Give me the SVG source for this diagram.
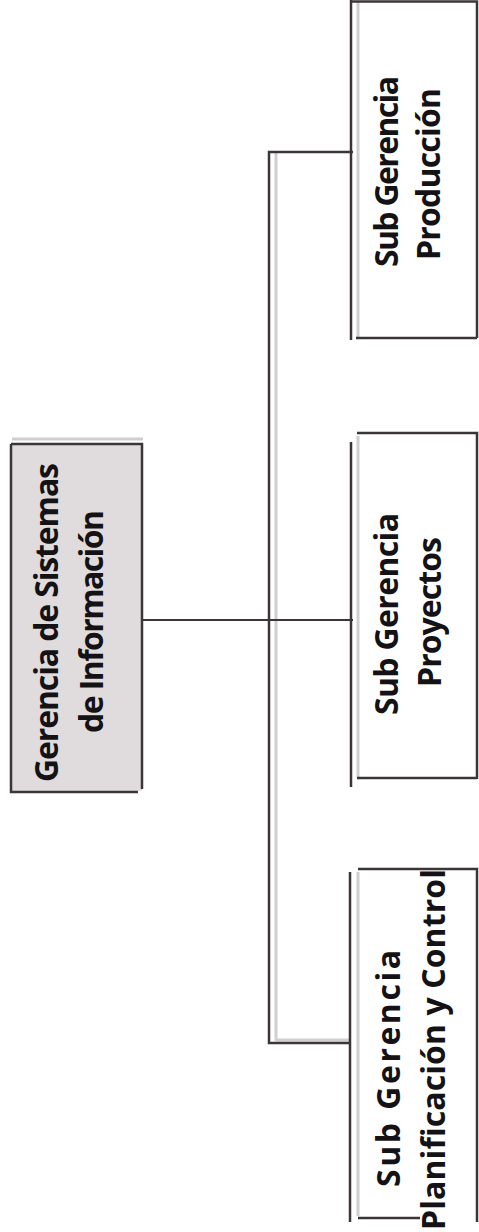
<svg xmlns="http://www.w3.org/2000/svg" width="479" height="1232" viewBox="0 0 479 1232">
  <style>
    .bg { fill: #ffffff; }
    .dark { stroke: #3b3539; stroke-width: 2.5; fill: none; }
    .thin { stroke: #3b3539; stroke-width: 2; fill: none; }
    .shade { stroke: #cfcfcf; stroke-width: 3; fill: none; }
    .box { fill: #ffffff; stroke: none; }
    .main { fill: #e0dbdc; stroke: none; }
    .t { font-family: "Open Sans", "Liberation Sans", sans-serif; font-weight: bold; font-size: 32px; fill: #141214; text-anchor: middle; }
  </style>
  <rect class="bg" x="0" y="0" width="479" height="1232"/>

  <g id="connectors">
    <line class="shade" x1="276" y1="153" x2="276" y2="1041"/>
    <line class="shade" x1="276" y1="1040" x2="350" y2="1040"/>
    <path class="dark" d="M 353 152 H 269 V 1043 H 351"/>
    <line class="thin" x1="143" y1="620" x2="353" y2="620"/>
  </g>

  <g id="gerencia">
    <line class="shade" x1="12" y1="439" x2="143" y2="439" stroke-width="4"/>
    <rect class="main" x="12" y="444" width="130" height="347"/>
    <path class="dark" d="M 11 444 H 142 V 789 M 11 444 V 792 H 138"/>
    <text class="t" transform="rotate(-90)" x="-622.5" y="58" textLength="319">Gerencia de Sistemas</text>
    <text class="t" transform="rotate(-90)" x="-621.5" y="103" textLength="223">de Información</text>
  </g>

  <g id="produccion">
    <rect class="box" x="353" y="2" width="123" height="336"/>
    <line class="shade" x1="358" y1="2" x2="358" y2="337"/>
    <path class="dark" d="M 351 0 V 340 M 352 1.5 H 477 V 338 M 356 338 H 477"/>
    <text class="t" transform="rotate(-90)" x="-171.5" y="398" textLength="191">Sub Gerencia</text>
    <text class="t" transform="rotate(-90)" x="-174" y="440" textLength="172">Producción</text>
  </g>

  <g id="proyectos">
    <rect class="box" x="353" y="434" width="123" height="344"/>
    <line class="shade" x1="358" y1="436" x2="358" y2="777"/>
    <path class="dark" d="M 351 442 V 787 M 357 433 H 477 V 779 M 357 778 H 477"/>
    <text class="t" transform="rotate(-90)" x="-614" y="398" textLength="202">Sub Gerencia</text>
    <text class="t" transform="rotate(-90)" x="-612" y="441" textLength="150">Proyectos</text>
  </g>

  <g id="planificacion">
    <rect class="box" x="353" y="870" width="123" height="348"/>
    <line class="shade" x1="358" y1="872" x2="358" y2="1216"/>
    <path class="dark" d="M 350 872 V 1222 M 358 869 H 477 V 1222 M 358 1218 H 420"/>
    <text class="t" transform="rotate(-90)" x="-1068.5" y="400" textLength="237">Sub Gerencia</text>
    <text class="t" transform="rotate(-90)" x="-1049.5" y="445" textLength="361">Planificación y Control</text>
  </g>
</svg>
